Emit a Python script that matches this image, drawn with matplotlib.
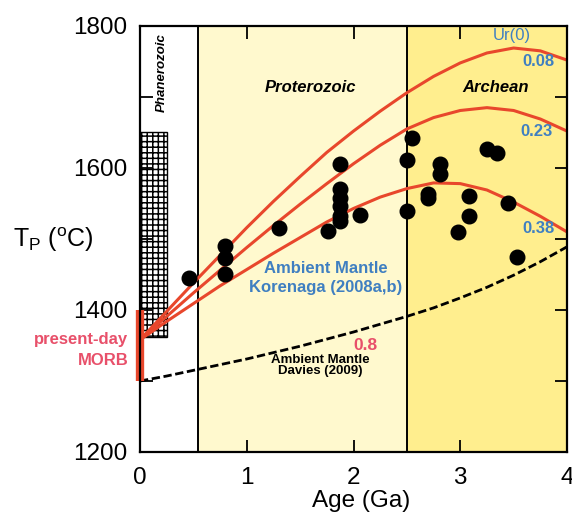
import matplotlib
matplotlib.use("Agg")
import matplotlib.pyplot as plt
from matplotlib.patches import Rectangle

plt.rcParams['font.family'] = ['Liberation Sans', 'DejaVu Sans']
plt.rcParams['hatch.linewidth'] = 1.1
plt.rcParams['mathtext.fontset'] = 'custom'
plt.rcParams['mathtext.rm'] = 'Liberation Sans'

# ---- data ----
age_grid = [0, 0.25, 0.5, 0.75, 1.0, 1.25, 1.5, 1.75, 2.0, 2.25, 2.5,
            2.75, 3.0, 3.25, 3.5, 3.75, 4.0]
tp_ur008 = [1358, 1398, 1438, 1477, 1516, 1553, 1588, 1622, 1652, 1680, 1706,
            1729, 1748, 1762, 1769, 1765, 1752]
tp_ur023 = [1358, 1391, 1424, 1456, 1488, 1519, 1549, 1578, 1606, 1632, 1655,
            1671, 1681, 1685, 1681, 1669, 1652]
tp_ur038 = [1358, 1384, 1409, 1434, 1457, 1480, 1502, 1524, 1543, 1559, 1571,
            1579, 1578, 1569, 1552, 1532, 1510]
tp_ur08 = [1300, 1307, 1315, 1323, 1331, 1340, 1349, 1359, 1369, 1380, 1391,
           1403, 1417, 1432, 1449, 1468, 1489]

dot_age = [0.46, 0.80, 0.80, 0.80, 1.30, 1.76, 1.87, 1.87, 1.87, 1.87, 1.87,
           1.87, 2.06, 2.50, 2.55, 2.50, 2.70, 2.70, 2.81, 2.81, 2.98, 3.08,
           3.08, 3.25, 3.34, 3.45, 3.53]
dot_tp = [1445, 1490, 1473, 1450, 1516, 1511, 1605, 1570, 1558, 1546, 1532,
          1525, 1534, 1540, 1642, 1611, 1563, 1558, 1605, 1592, 1510, 1560,
          1533, 1627, 1621, 1551, 1474]

eon_bounds = [0.0, 0.541, 2.5, 4.0]
eon_names = ['Phanerozoic', 'Proterozoic', 'Archean']
morb_range = [1300, 1400]
xtick_vals = [0, 1, 2, 3, 4]
ytick_major = [1200, 1400, 1600, 1800]
ytick_minor = [1300, 1500, 1700]

# ---- colours ----
RED = '#E8472C'
PINK = '#E8506A'
BLUE = '#3F7FC1'
PROT = '#FFF9CE'
ARCH = '#FFEE8E'

fig = plt.figure(figsize=(5.72, 5.21), dpi=100)
ax = fig.add_axes([140/572, 69/521, 427/572, 426/521])
ax.set_xlim(0, 4)
ax.set_ylim(1200, 1800)

ax.axvspan(eon_bounds[1], eon_bounds[2], color=PROT, zorder=0, lw=0)
ax.axvspan(eon_bounds[2], eon_bounds[3], color=ARCH, zorder=0, lw=0)
for b in eon_bounds[1:3]:
    ax.axvline(b, color='black', lw=1.4, zorder=1)

ax.add_patch(Rectangle((0, 1362), 0.25, 288, facecolor='white',
                       edgecolor='black', hatch='+++', lw=1.0, zorder=1))

for tp in (tp_ur008, tp_ur023, tp_ur038):
    ax.plot(age_grid, tp, color=RED, lw=2.2, zorder=3, solid_capstyle='butt')
ax.plot(age_grid, tp_ur08, color='black', lw=2.0, ls=(0, (3, 1.3)), zorder=3)

ax.plot(dot_age, dot_tp, 'o', color='black', ms=10.5, zorder=4)

ax.plot([0, 0], morb_range, color=RED, lw=6, solid_capstyle='butt',
        zorder=6, clip_on=False)

# ---- text ----
ax.text(0.20, 1735, eon_names[0], rotation=90, fontsize=9.5, fontweight='bold',
        fontstyle='italic', ha='center', va='center', zorder=5)
ax.text(1.60, 1714, eon_names[1], fontsize=12, fontweight='bold',
        fontstyle='italic', ha='center', va='center', zorder=5)
ax.text(3.33, 1714, eon_names[2], fontsize=12, fontweight='bold',
        fontstyle='italic', ha='center', va='center', zorder=5)

ax.text(3.48, 1786, 'Ur(0)', color=BLUE, fontsize=12, ha='center', va='center')
ax.text(3.73, 1750, '0.08', color=BLUE, fontsize=12, fontweight='bold',
        ha='center', va='center')
ax.text(3.71, 1652, '0.23', color=BLUE, fontsize=12, fontweight='bold',
        ha='center', va='center')
ax.text(3.73, 1515, '0.38', color=BLUE, fontsize=12, fontweight='bold',
        ha='center', va='center')
ax.text(2.11, 1350, '0.8', color=PINK, fontsize=12.5, fontweight='bold',
        ha='center', va='center')

ax.text(1.74, 1459, 'Ambient Mantle', color=BLUE, fontsize=12,
        fontweight='bold', ha='center', va='center')
ax.text(1.74, 1431, 'Korenaga (2008a,b)', color=BLUE, fontsize=12,
        fontweight='bold', ha='center', va='center')
ax.text(1.69, 1329, 'Ambient Mantle', color='black', fontsize=9.5,
        fontweight='bold', ha='center', va='center')
ax.text(1.69, 1314, 'Davies (2009)', color='black', fontsize=9.5,
        fontweight='bold', ha='center', va='center')

ax.text(-0.11, 1359, 'present-day', color=PINK, fontsize=12, fontweight='bold',
        ha='right', va='center', clip_on=False)
ax.text(-0.11, 1329, 'MORB', color=PINK, fontsize=12, fontweight='bold',
        ha='right', va='center', clip_on=False)

fig.text(13/572, 1 - 240/521, r'T$_\mathrm{P}$ ($^\mathrm{o}$C)', fontsize=18,
         ha='left', va='center')
fig.text(361/572, 1 - 501/521, 'Age (Ga)', fontsize=17.5, ha='center',
         va='center')

# ---- ticks ----
ax.set_xticks(xtick_vals)
ax.set_yticks(ytick_major)
ax.set_yticks(ytick_minor, minor=True)
ax.tick_params(axis='both', which='both', direction='in', length=9, width=1.3,
               top=True, right=True, labelsize=17.5)
ax.tick_params(axis='x', pad=11)
ax.tick_params(axis='y', pad=9)
for s in ax.spines.values():
    s.set_linewidth(1.6)
    s.set_zorder(7)

fig.savefig('out.png', dpi=100)
